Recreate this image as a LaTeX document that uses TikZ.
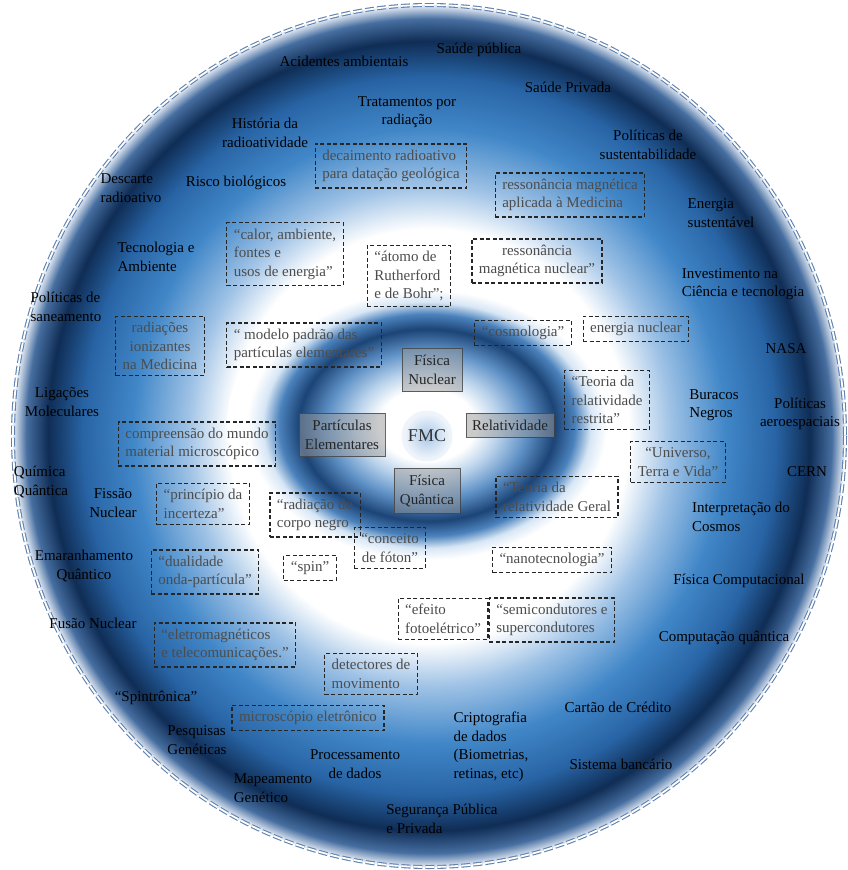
\documentclass[tikz,border=0pt]{standalone}
\usepackage{fontspec}
\setmainfont{Liberation Serif}

\definecolor{ringa}{RGB}{185,210,235}
\definecolor{ringb}{RGB}{95,145,198}
\definecolor{ringnavy}{RGB}{28,68,118}
\definecolor{ringc}{RGB}{75,130,188}
\definecolor{ringd}{RGB}{215,230,245}
\definecolor{ringe}{RGB}{160,195,230}
\definecolor{ringf}{RGB}{65,135,200}
\definecolor{ringg}{RGB}{40,100,165}
\definecolor{ringdeep}{RGB}{15,45,85}
\definecolor{ringh}{RGB}{70,110,160}
\definecolor{ringrim}{RGB}{235,240,248}
\definecolor{borderblue}{RGB}{95,130,175}
\definecolor{hubblue}{RGB}{170,200,232}

% 25bp is the rim of the shaded path
\pgfdeclareradialshading{outerrings}{\pgfpoint{0bp}{0bp}}{%
  color(0bp)=(white);
  color(12bp)=(white);
  color(14.5bp)=(ringe);
  color(17.8bp)=(ringf);
  color(20.8bp)=(ringg);
  color(22.9bp)=(ringdeep);
  color(24.2bp)=(ringh);
  color(25bp)=(ringrim);
  color(50bp)=(ringrim)}
\pgfdeclareradialshading{coreglow}{\pgfpoint{0bp}{0bp}}{%
  color(0bp)=(white);
  color(6bp)=(white);
  color(9bp)=(ringa);
  color(12.5bp)=(ringb);
  color(16bp)=(ringnavy);
  color(18.5bp)=(ringc);
  color(20.5bp)=(ringd);
  color(22.5bp)=(white);
  color(50bp)=(white)}

\begin{document}
\begin{tikzpicture}[
    x=1pt, y=-1pt,
    every node/.style={font=\fontsize{15}{18.5}\selectfont},
    idea/.style={inner sep=0pt, align=center, text=black},
    quotebox/.style={draw=black!85, line width=1.2pt, dash pattern=on 4pt off 2.5pt,
      inner xsep=7pt, inner ysep=6pt, text=black!70, align=left},
    corebox/.style={fill=gray!80, fill opacity=0.5, text opacity=1, draw=gray!50!black,
      draw opacity=0.8, text=black!85, inner xsep=6pt, inner ysep=7pt, align=center},
    hubdisk/.style={circle, minimum size=46pt, inner color=hubblue, outer color=white!85!hubblue,
      draw=white!80!hubblue, line width=2.5pt, font=\fontsize{18}{20}\selectfont, text=black!80}
  ]

  \fill[white] (0,0) rectangle (846,870);
  \shade[shading=outerrings] (429,436) ellipse [x radius=416, y radius=431];
  \shade[shading=coreglow] (427,425) ellipse [x radius=200, y radius=150];
  \draw[borderblue, line width=1.1pt, double=white, double distance=1.8pt,
    dash pattern=on 9pt off 3pt] (429,436) ellipse [x radius=416, y radius=431];

  % centre
  \node [hubdisk] (hub) at (427,436) {FMC};
  \node [corebox] (nuclear) at (432,370) {Física\\Nuclear};
  \node [corebox] (particulas) at (342,435) {Partículas\\Elementares};
  \node [corebox] (relatividade) at (510,425) {Relatividade};
  \node [corebox] (quantica) at (427,491) {Física\\Quântica};

  % contents
  \begin{scope}[every node/.append style={quotebox}]
    \node (decaimento) at (391,166) {decaimento radioativo\\para datação geológica};
    \node (ressmed) at (570,195) {ressonância magnética\\aplicada à Medicina};
    \node (calor) at (285,254) {“calor, ambiente,\\fontes e\\usos de energia”};
    \node (atomo) at (409,276) {“átomo de\\Rutherford\\e de Bohr”;};
    \node [align=center] (ressnuc) at (537,261) {ressonância\\magnética nuclear”};
    \node [align=center] (ionizantes) at (160,346) {radiações\\ionizantes\\na Medicina};
    \node (modelo) at (304,345) {“ modelo padrão das\\partículas elementares”};
    \node (cosmologia) at (523,333) {“cosmologia”};
    \node (energianuc) at (636,329) {energia nuclear};
    \node (restrita) at (607,400) {“Teoria da\\relatividade\\restrita”};
    \node (microscopico) at (197,444) {compreensão do mundo\\material microscópico};
    \node (universo) [align=center] at (678,462) {“Universo,\\Terra e Vida”};
    \node (geral) at (557,497) {“Teoria da\\relatividade Geral};
    \node (incerteza) at (203,504) {“princípio da\\incerteza”};
    \node (corponegro) at (315,515) {“radiação do\\corpo negro};
    \node [align=center] (foton) at (390,548) {“conceito\\de fóton”};
    \node (nano) at (552,560) {“nanotecnologia”};
    \node (spin) at (310,568) {“spin”};
    \node (dualidade) at (205,572) {“dualidade\\onda-partícula”};
    \node (fotoeletrico) at (443,619) {“efeito\\fotoelétrico”};
    \node (semicond) at (552,620) {“semicondutores e\\supercondutores};
    \node (eletromag) at (225,645) {“eletromagnéticos\\e telecomunicações.”};
    \node (detectores) at (371,674) {detectores de\\movimento};
    \node (microscopio) at (308,718) {microscópio eletrônico};
  \end{scope}

  % applications
  \begin{scope}[every node/.append style={idea}]
    \node (saudepub) at (479,50) {Saúde pública};
    \node (acidentes) at (344,61) {Acidentes ambientais};
    \node (saudepriv) at (568,87) {Saúde Privada};
    \node (tratamentos) at (407,112) {Tratamentos por\\radiação};
    \node (historia) at (265,133) {História da\\radioatividade};
    \node (sustentab) at (648,145) {Políticas de\\sustentabilidade};
    \node [align=left] (descarte) at (131,188) {Descarte\\radioativo};
    \node (risco) at (236,183) {Risco biológicos};
    \node [align=left] (energiasust) at (721,213) {Energia\\sustentável};
    \node [align=left] (tecnologia) at (156,257) {Tecnologia e\\Ambiente};
    \node [align=left] (investimento) at (743,284) {Investimento na\\Ciência e tecnologia};
    \node [align=left] (saneamento) at (66,307) {Políticas de\\saneamento};
    \node (nasa) at (786,349) {NASA};
    \node (ligacoes) at (62,402) {Ligações\\Moleculares};
    \node [align=left] (buracos) at (714,405) {Buracos\\Negros};
    \node (aeroesp) at (800,414) {Políticas\\aeroespaciais};
    \node (cern) at (807,472) {CERN};
    \node [align=left] (quimica) at (41,482) {Química\\Quântica};
    \node (fissao) at (113,503) {Fissão\\Nuclear};
    \node [align=left] (cosmos) at (741,517) {Interpretação do\\Cosmos};
    \node (emaranhamento) at (84,566) {Emaranhamento\\Quântico};
    \node (fiscomp) at (739,581) {Física Computacional};
    \node (fusao) at (93,623) {Fusão Nuclear};
    \node (compquant) at (724,638) {Computação quântica};
    \node (spintronica) at (156,698) {“Spintrônica”};
    \node (cartao) at (618,707) {Cartão de Crédito};
    \node [align=left] (pesquisas) at (197,740) {Pesquisas\\Genéticas};
    \node [align=left] (criptografia) at (491,747) {Criptografia\\de dados\\(Biometrias,\\retinas, etc)};
    \node (processamento) at (355,764) {Processamento\\de dados};
    \node (bancario) at (621,764) {Sistema bancário};
    \node [align=left] (mapeamento) at (273,788) {Mapeamento\\Genético};
    \node [align=left] (seguranca) at (442,819) {Segurança Pública\\e Privada};
  \end{scope}

\end{tikzpicture}
\end{document}
